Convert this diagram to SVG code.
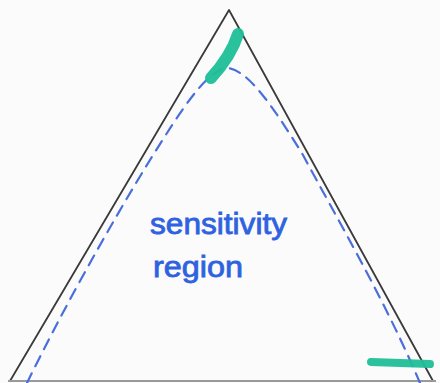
<svg xmlns="http://www.w3.org/2000/svg" width="440" height="383" viewBox="0 0 440 383">
<style>
.edge{fill:none;stroke:#3a3a3a;stroke-width:1.8;stroke-linecap:round;stroke-linejoin:round}
.base{fill:none;stroke:#9a9a9a;stroke-width:2}
.dash{fill:none;stroke:#4a6fdc;stroke-width:2.2;stroke-dasharray:11 8;stroke-linecap:round}
.mark{fill:none;stroke:#1fbf98;stroke-linecap:round;opacity:0.95}
.lbl{font-family:"Liberation Sans",sans-serif;fill:#2f62e0;stroke:#2f62e0;stroke-width:0.8;font-size:29px}
</style>
<rect width="440" height="383" fill="#fbfbfb"/>
<g id="triangle">
<path class="edge" d="M10,381 L229,10 L433,381"/>
<line class="base" x1="8" y1="381" x2="436" y2="381"/>
</g>
<g id="sensitivity-boundary">
<path class="dash" d="M27,383 C60,315 110,225 150,160 C180,112 205,72 226,68 C248,68 275,110 303,155 C335,215 385,300 420,383"/>
</g>
<g id="marks">
<path class="mark" stroke-width="12" d="M238,34 C233,50 222,66 211,78"/>
<path class="mark" stroke-width="8" d="M371,362 L430,364"/>
</g>
<g id="label">
<text class="lbl" x="150" y="234" textLength="137" lengthAdjust="spacingAndGlyphs">sensitivity</text>
<text class="lbl" x="153" y="277" textLength="90" lengthAdjust="spacingAndGlyphs">region</text>
</g>
</svg>
